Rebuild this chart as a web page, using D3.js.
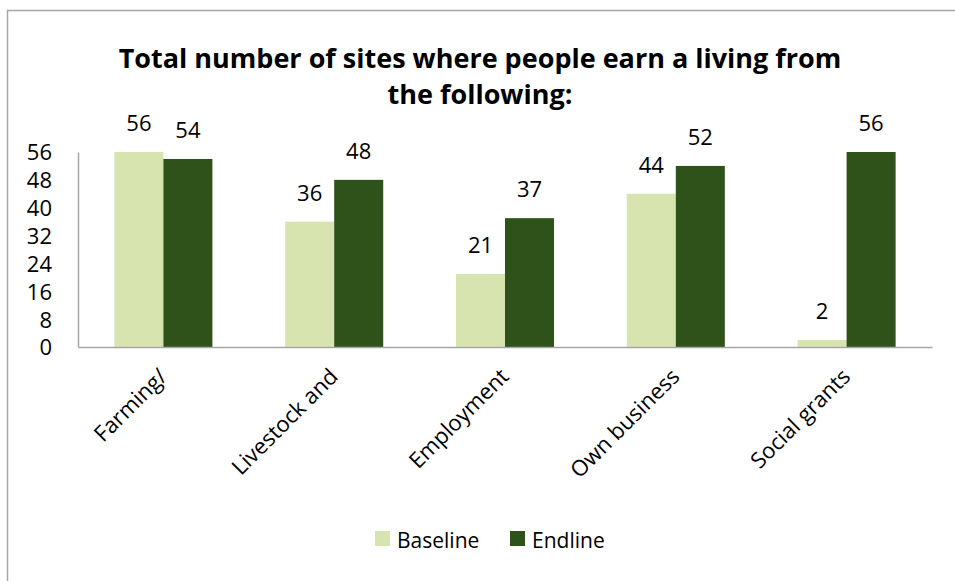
<!DOCTYPE html>
<html>
<head>
<meta charset="utf-8">
<script src="https://cdn.jsdelivr.net/npm/d3@7"></script>
<style>
  html, body { margin: 0; padding: 0; background: #fff; }
  svg { display: block; font-family: "Open Sans", Lato, sans-serif; }
</style>
</head>
<body>
<svg id="chart" width="955" height="581"></svg>
<script>
// Livelihood sources per site, baseline vs endline
const categories = ["Farming/", "Livestock and", "Employment", "Own business", "Social grants"];
const baseline = [56, 36, 21, 44, 2];
const endline = [54, 48, 37, 52, 56];
const seriesNames = ["Baseline", "Endline"];
const yTicks = [0, 8, 16, 24, 32, 40, 48, 56];
const titleLines = ["Total number of sites where people earn a living from", "the following:"];

const colors = ["#d7e4b0", "#2e5219"];

const svg = d3.select("#chart");
const margin = { left: 78, right: 23, top: 152, bottom: 234 };
const W = 955, H = 581;

// chart frame
svg.append("rect")
  .attr("x", 7.5).attr("y", 10.5)
  .attr("width", 960).attr("height", 600)
  .attr("fill", "none").attr("stroke", "#a6a6a6").attr("stroke-width", 1.5);

// title
svg.append("g").selectAll("text").data(titleLines).join("text")
  .attr("x", 480).attr("y", (d, i) => 68 + i * 36)
  .attr("text-anchor", "middle")
  .attr("font-weight", "bold").attr("font-size", 27)
  .attr("fill", "#000")
  .text(d => d);

const x0 = d3.scaleBand().domain(categories)
  .range([margin.left, W - margin.right]).paddingInner(0.426).paddingOuter(0.213);
const x1 = d3.scaleBand().domain(seriesNames).range([0, x0.bandwidth()]);
const y = d3.scaleLinear().domain([0, 56]).range([H - margin.bottom, margin.top]);

const rows = categories.map((c, i) => ({ cat: c, vals: [baseline[i], endline[i]] }));

// bars
const groups = svg.append("g").selectAll("g").data(rows).join("g")
  .attr("transform", d => `translate(${x0(d.cat)},0)`);
groups.selectAll("rect").data(d => d.vals.map((v, k) => ({ v, k }))).join("rect")
  .attr("x", d => x1(seriesNames[d.k]))
  .attr("width", x1.bandwidth())
  .attr("y", d => y(d.v))
  .attr("height", d => y(0) - y(d.v))
  .attr("fill", d => colors[d.k]);

// value labels
groups.selectAll("text").data(d => d.vals.map((v, k) => ({ v, k }))).join("text")
  .attr("x", d => x1(seriesNames[d.k]) + x1.bandwidth() / 2)
  .attr("y", d => y(d.v) - 21)
  .attr("text-anchor", "middle").attr("font-size", 22).attr("fill", "#000")
  .text(d => d.v);

// y axis
const yAxis = svg.append("g").attr("transform", `translate(${margin.left},0)`)
  .call(d3.axisLeft(y).tickValues(yTicks).tickSize(0).tickPadding(26));
yAxis.select(".domain").attr("stroke", "#a6a6a6").attr("stroke-width", 1.5);
yAxis.selectAll("text").attr("font-size", 22).attr("fill", "#000")
  .attr("font-family", "'Open Sans', Lato, sans-serif").attr("dy", "0.36em");

// x axis
const xAxis = svg.append("g").attr("transform", `translate(0,${y(0)})`)
  .call(d3.axisBottom(x0).tickSize(0).tickFormat(""));
xAxis.select(".domain").attr("stroke", "#a6a6a6").attr("stroke-width", 1.5);

// rotated category labels
svg.append("g").selectAll("text").data(categories).join("text")
  .attr("transform", d => `translate(${x0(d) + x0.bandwidth() / 2 + 5},${y(0) + 31}) rotate(-45)`)
  .attr("text-anchor", "end").attr("font-size", 22).attr("fill", "#000")
  .text(d => d);

// legend
const legend = svg.append("g").attr("transform", "translate(375,531)");
const items = legend.selectAll("g").data(seriesNames).join("g")
  .attr("transform", (d, i) => `translate(${i * 135},0)`);
items.append("rect").attr("width", 15).attr("height", 15).attr("fill", (d, i) => colors[i]);
items.append("text").attr("x", 22).attr("y", 17).attr("font-size", 21).attr("fill", "#000")
  .text(d => d);
</script>
</body>
</html>
